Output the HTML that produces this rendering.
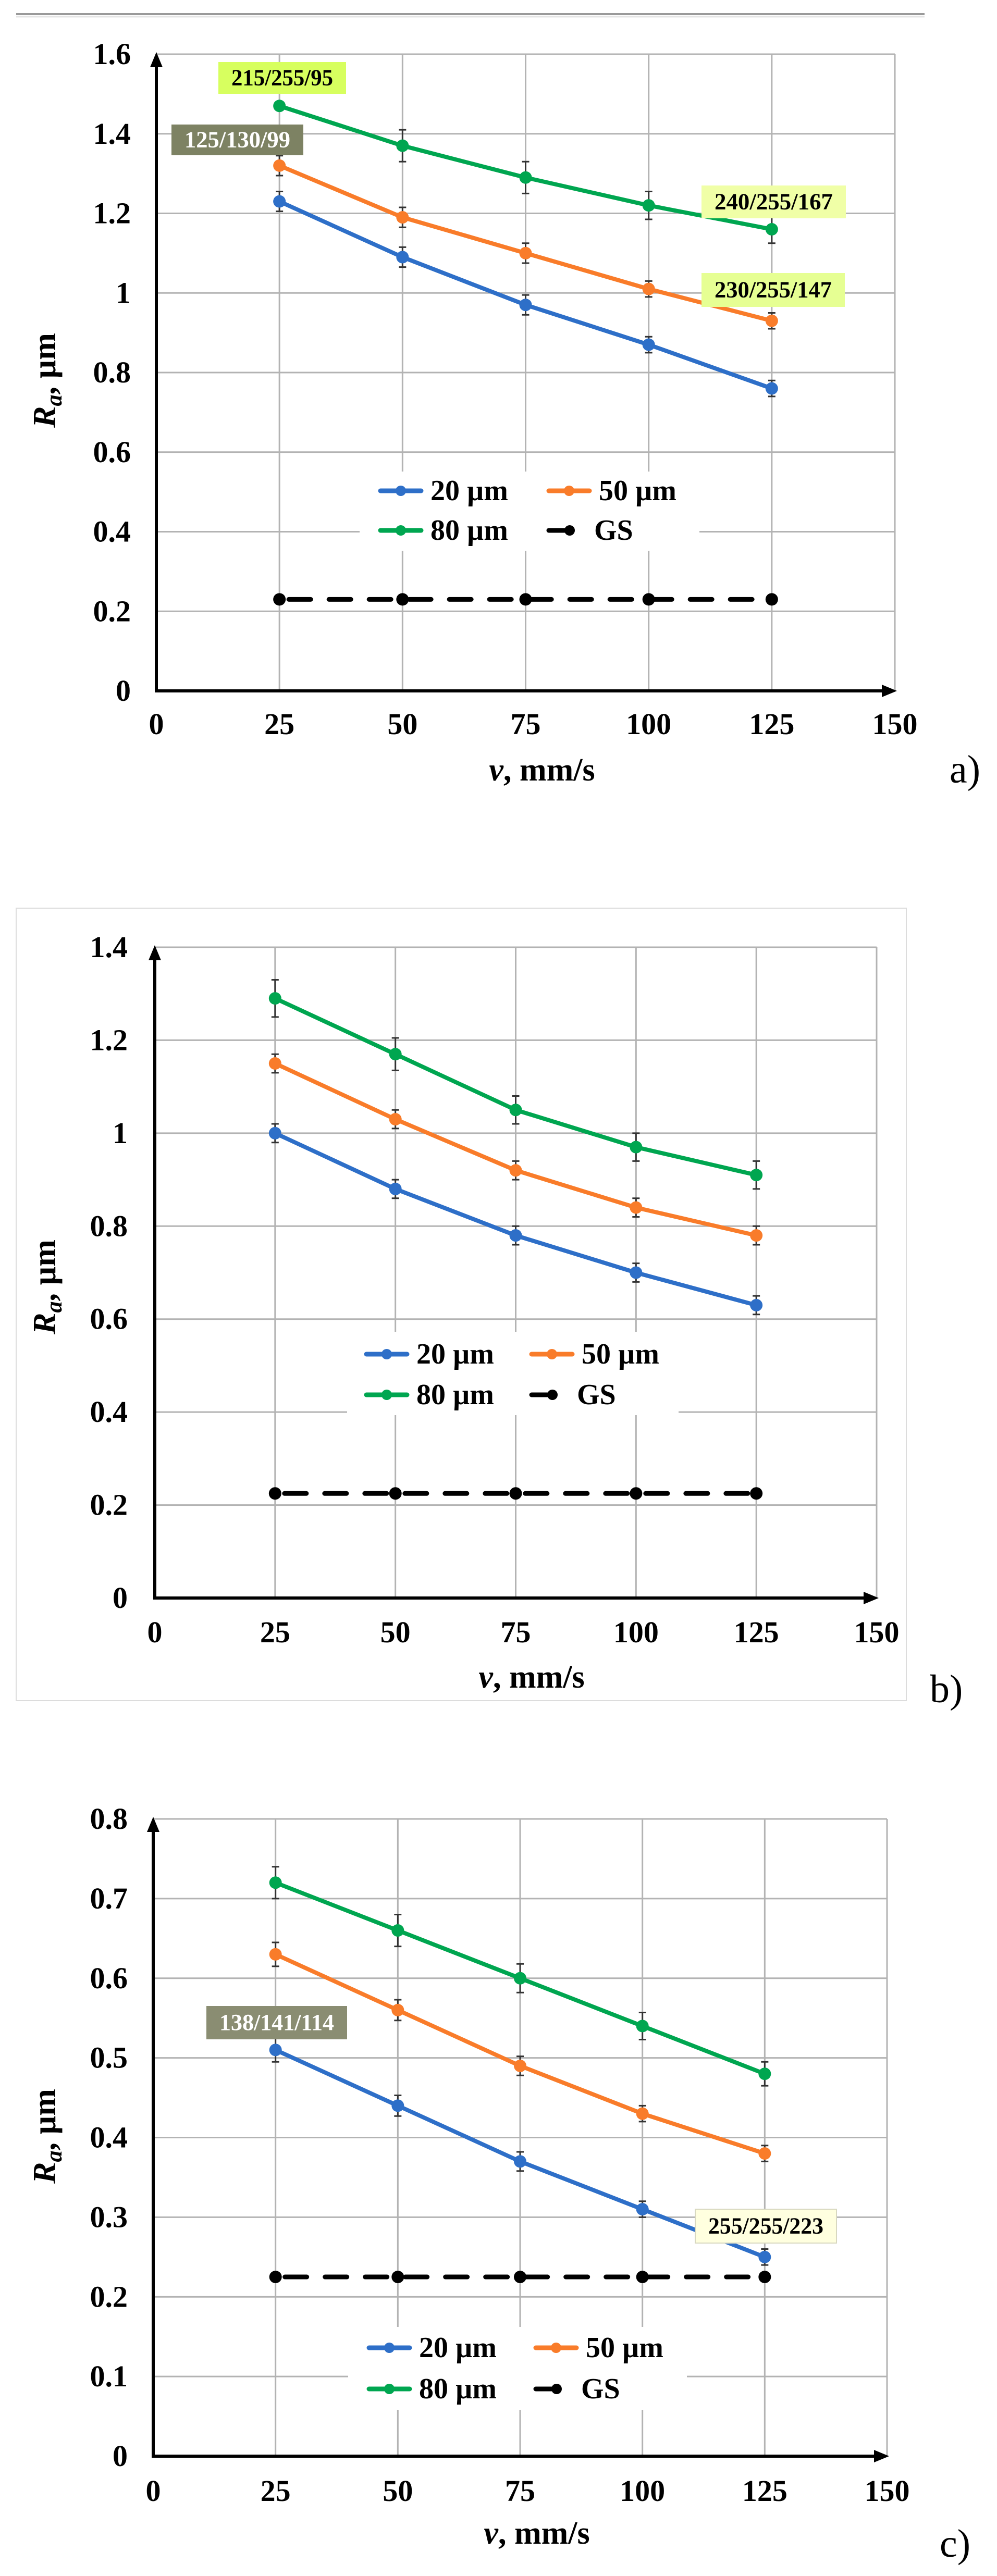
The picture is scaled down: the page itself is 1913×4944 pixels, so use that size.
<!DOCTYPE html>
<html><head><meta charset="utf-8"><style>
html,body{margin:0;padding:0;background:#fff;}
svg{display:block;font-family:"Liberation Serif","Times New Roman",serif;}
svg text{font-family:"Liberation Serif","Times New Roman",serif;font-weight:bold;}
svg text.panel{font-weight:normal;}
</style></head><body>
<svg id="root" width="1913" height="4944" viewBox="0 0 1913 4944" xmlns="http://www.w3.org/2000/svg" font-family="Liberation Serif, serif">
<rect x="0" y="0" width="1913" height="4944" fill="#fff"/>
<line x1="31" y1="27" x2="1774" y2="27" stroke="#9a9a9a" stroke-width="4"/>
<line x1="31" y1="32" x2="1774" y2="32" stroke="#e4e4e4" stroke-width="3"/>
<rect x="31" y="1743" width="1708" height="1521" fill="none" stroke="#dcdcdc" stroke-width="2"/>
</svg>
<script>
const categories = [25, 50, 75, 100, 125];
const xTicks = [0, 25, 50, 75, 100, 125, 150];
const ticksA = [0, 0.2, 0.4, 0.6, 0.8, 1, 1.2, 1.4, 1.6];
const ticksB = [0, 0.2, 0.4, 0.6, 0.8, 1, 1.2, 1.4];
const ticksC = [0, 0.1, 0.2, 0.3, 0.4, 0.5, 0.6, 0.7, 0.8];
const a20 = [1.23, 1.09, 0.97, 0.87, 0.76];
const a50 = [1.32, 1.19, 1.10, 1.01, 0.93];
const a80 = [1.47, 1.37, 1.29, 1.22, 1.16];
const aGS = [0.23, 0.23, 0.23, 0.23, 0.23];
const b20 = [1.00, 0.88, 0.78, 0.70, 0.63];
const b50 = [1.15, 1.03, 0.92, 0.84, 0.78];
const b80 = [1.29, 1.17, 1.05, 0.97, 0.91];
const bGS = [0.225, 0.225, 0.225, 0.225, 0.225];
const c20 = [0.51, 0.44, 0.37, 0.31, 0.25];
const c50 = [0.63, 0.56, 0.49, 0.43, 0.38];
const c80 = [0.72, 0.66, 0.60, 0.54, 0.48];
const cGS = [0.225, 0.225, 0.225, 0.225, 0.225];
const errA = [0.025, 0.025, 0.025, 0.02, 0.02];
const errA80 = [0.01, 0.04, 0.04, 0.035, 0.035];
const errB = [0.02, 0.02, 0.02, 0.02, 0.02];
const errB80 = [0.04, 0.035, 0.03, 0.03, 0.03];
const errC = [0.015, 0.013, 0.012, 0.01, 0.01];
const errC80 = [0.02, 0.02, 0.018, 0.017, 0.015];
const legendLabels = ["20 µm", "50 µm", "80 µm", "GS"];

const NS = "http://www.w3.org/2000/svg";
const root = document.getElementById("root");
const SERIF = "Liberation Serif, Times New Roman, serif";
function mk(tag, attrs, parent){
  const e = document.createElementNS(NS, tag);
  for (const k in attrs) e.setAttribute(k, attrs[k]);
  if (tag === "text" && !attrs["font-family"]) { e.setAttribute("font-family", SERIF); if (!attrs["font-weight"]) e.setAttribute("font-weight", "bold"); }
  (parent||root).appendChild(e);
  return e;
}
const COLORS = {s20:"#2e6fc8", s50:"#f97c2a", s80:"#00a650", gs:"#000"};

function drawChart(cfg){
  const g = mk("g", {});
  
  
  const X = v => cfg.x0 + (v/150)*(cfg.x150 - cfg.x0);
  const Y = v => cfg.y0 - (v/cfg.ymax)*(cfg.y0 - cfg.ytop);
  cfg.yTicks.forEach(t => {
    if (t === 0) return;
    const l = mk("line", {x1:cfg.x0, x2:cfg.x150, y1:Y(t), y2:Y(t), stroke:"#b3b3b3", "stroke-width":3}, g);
    
    
  });
  xTicks.forEach(t => {
    if (t === 0) return;
    const l = mk("line", {x1:X(t), x2:X(t), y1:cfg.ytop, y2:cfg.y0, stroke:"#b3b3b3", "stroke-width":3}, g);
    
    
  });
  const L = cfg.legend;
  const lb = mk("rect", {x:L.bx, y:L.by, width:L.bw, height:L.bh, fill:"#fff"}, g);
  
  
  const ya = mk("line", {x1:cfg.x0, x2:cfg.x0, y1:cfg.y0+3, y2:cfg.ytop+20, stroke:"#000", "stroke-width":6}, g);
  
  
  const yh = mk("polygon", {points:`${cfg.x0-12},${cfg.ytop+25} ${cfg.x0+12},${cfg.ytop+25} ${cfg.x0},${cfg.ytop-4}`, fill:"#000"}, g);
  
  
  const xa = mk("line", {x1:cfg.x0-3, x2:cfg.x150-20, y1:cfg.y0, y2:cfg.y0, stroke:"#000", "stroke-width":6}, g);
  
  
  const xh = mk("polygon", {points:`${cfg.x150-25},${cfg.y0-12} ${cfg.x150-25},${cfg.y0+12} ${cfg.x150+4},${cfg.y0}`, fill:"#000"}, g);
  
  
  cfg.yTicks.forEach(t => {
    const tx = mk("text", {x:cfg.ylabX, y:Y(t)+19, "text-anchor":"end", "font-size":58}, g);
    tx.textContent = String(t);
    
    
  });
  xTicks.forEach(t => {
    const tx = mk("text", {x:X(t), y:cfg.xlabY+19, "text-anchor":"middle", "font-size":58}, g);
    tx.textContent = String(t);
    
    
  });
  const xt = mk("text", {x:cfg.xtitleX, y:cfg.xtitleY+20, "text-anchor":"middle", "font-size":62}, g);
  xt.innerHTML = '<tspan font-style="italic">v</tspan>, mm/s';
  
  
  const yt = mk("text", {x:0, y:0, "text-anchor":"middle", "font-size":62, transform:`translate(${cfg.ytitleX+20},${cfg.ytitleY}) rotate(-90)`}, g);
  yt.innerHTML = '<tspan font-style="italic">R</tspan><tspan font-style="italic" font-size="44" dy="12">a</tspan><tspan dy="-12">, µm</tspan>';
  
  
  const pl = mk("text", {x:cfg.panelX, y:cfg.panelY+24, "font-size":76, "font-weight":"normal", "class":"panel"}, g);
  pl.textContent = cfg.panel;
  
  
  const gsPts = categories.map((c,i) => `${X(c)},${Y(cfg.gs[i])}`).join(" ");
  const gl = mk("polyline", {points:gsPts, fill:"none", stroke:"#000", "stroke-width":9, "stroke-dasharray":"42 35", "stroke-dashoffset":"-18", "stroke-linecap":"round"}, g);
  
  
  categories.forEach((c,i) => {
    const d = mk("circle", {cx:X(c), cy:Y(cfg.gs[i]), r:12, fill:"#000"}, g);
    
    
  });
  cfg.series.forEach(s => {
    const pts = categories.map((c,i) => `${X(c)},${Y(s.v[i])}`).join(" ");
    const pl2 = mk("polyline", {points:pts, fill:"none", stroke:s.color, "stroke-width":8, "stroke-linejoin":"round"}, g);
    
    
    categories.forEach((c,i) => {
      const cx = X(c), cy = Y(s.v[i]);
      const e1 = Y(s.v[i]+s.e[i]), e2 = Y(s.v[i]-s.e[i]);
      const eb = mk("path", {d:`M${cx},${e1}V${e2}M${cx-7},${e1}H${cx+7}M${cx-7},${e2}H${cx+7}`, stroke:"#333", "stroke-width":3, fill:"none"}, g);
      
      
      const m = mk("circle", {cx:cx, cy:cy, r:12, fill:s.color}, g);
      
      
    });
  });
  const entries = [
    {c:COLORS.s20, lx:L.c1, ly:L.r1, t:legendLabels[0], gs:false},
    {c:COLORS.s50, lx:L.c2, ly:L.r1, t:legendLabels[1], gs:false},
    {c:COLORS.s80, lx:L.c1, ly:L.r2, t:legendLabels[2], gs:false},
    {c:"#000", lx:L.c2, ly:L.r2, t:legendLabels[3], gs:true}
  ];
  entries.forEach(en => {
    const eg = mk("g", {}, g);
    
    
    if (en.gs){
      mk("line", {x1:en.lx, x2:en.lx+38, y1:en.ly, y2:en.ly, stroke:"#000", "stroke-width":9, "stroke-linecap":"round"}, eg);
      mk("circle", {cx:en.lx+40, cy:en.ly, r:10, fill:"#000"}, eg);
      const t = mk("text", {x:en.lx+87, y:en.ly+18, "font-size":56}, eg);
      t.textContent = en.t;
    } else {
      mk("line", {x1:en.lx, x2:en.lx+78, y1:en.ly, y2:en.ly, stroke:en.c, "stroke-width":9, "stroke-linecap":"round"}, eg);
      mk("circle", {cx:en.lx+39, cy:en.ly, r:10, fill:en.c}, eg);
      const t = mk("text", {x:en.lx+96, y:en.ly+18, "font-size":56}, eg);
      t.textContent = en.t;
    }
  });
  (cfg.notes||[]).forEach(n => {
    const ng = mk("g", {}, g);
    
    
    mk("rect", {x:n.x, y:n.y, width:n.w, height:n.h, fill:n.fill, stroke:n.stroke||"none", "stroke-width":2}, ng);
    const t = mk("text", {x:n.x+n.w/2, y:n.y+n.h/2+14, "text-anchor":"middle", "font-size":44, fill:n.tc, textLength:n.w-50, lengthAdjust:"spacingAndGlyphs"}, ng);
    t.textContent = n.t;
  });
}

drawChart({name:"chart-a", panel:"a)", x0:300, x150:1717, y0:1326, ytop:104, ymax:1.6, yTicks:ticksA,
  ylabX:251, xlabY:1390, xtitleX:1040, xtitleY:1478, ytitleX:86, ytitleY:730, panelX:1822, panelY:1478,
  gs:aGS,
  series:[{name:"series-20um", color:COLORS.s20, v:a20, e:errA},{name:"series-50um", color:COLORS.s50, v:a50, e:errA},{name:"series-80um", color:COLORS.s80, v:a80, e:errA80}],
  legend:{bx:690, by:905, bw:652, bh:152, c1:730, c2:1053, r1:942, r2:1018},
  notes:[
    {x:419,y:119,w:245,h:61,fill:"#d7ff5f",tc:"#000",t:"215/255/95"},
    {x:329,y:239,w:253,h:59,fill:"#7d8263",tc:"#fff",t:"125/130/99"},
    {x:1346,y:356,w:277,h:63,fill:"#f0ffa7",tc:"#000",t:"240/255/167"},
    {x:1346,y:524,w:275,h:65,fill:"#e6ff93",tc:"#000",t:"230/255/147"}
  ]});

drawChart({name:"chart-b", panel:"b)", x0:297, x150:1682, y0:3067, ytop:1818, ymax:1.4, yTicks:ticksB,
  ylabX:245, xlabY:3133, xtitleX:1020, xtitleY:3219, ytitleX:86, ytitleY:2470, panelX:1784, panelY:3243,
  gs:bGS,
  series:[{name:"series-20um", color:COLORS.s20, v:b20, e:errB},{name:"series-50um", color:COLORS.s50, v:b50, e:errB},{name:"series-80um", color:COLORS.s80, v:b80, e:errB80}],
  legend:{bx:666, by:2556, bw:636, bh:160, c1:703, c2:1020, r1:2599, r2:2677},
  notes:[]});

drawChart({name:"chart-c", panel:"c)", x0:294, x150:1702, y0:4714, ytop:3491, ymax:0.8, yTicks:ticksC,
  ylabX:245, xlabY:4781, xtitleX:1030, xtitleY:4862, ytitleX:86, ytitleY:4100, panelX:1803, panelY:4883,
  gs:cGS,
  series:[{name:"series-20um", color:COLORS.s20, v:c20, e:errC},{name:"series-50um", color:COLORS.s50, v:c50, e:errC},{name:"series-80um", color:COLORS.s80, v:c80, e:errC80}],
  legend:{bx:668, by:4466, bw:650, bh:159, c1:708, c2:1028, r1:4506, r2:4585},
  notes:[
    {x:396,y:3850,w:270,h:64,fill:"#8a8d72",tc:"#fff",t:"138/141/114"},
    {x:1334,y:4240,w:271,h:65,fill:"#ffffdf",stroke:"#d8d8c0",tc:"#000",t:"255/255/223"}
  ]});
</script>
</body></html>
